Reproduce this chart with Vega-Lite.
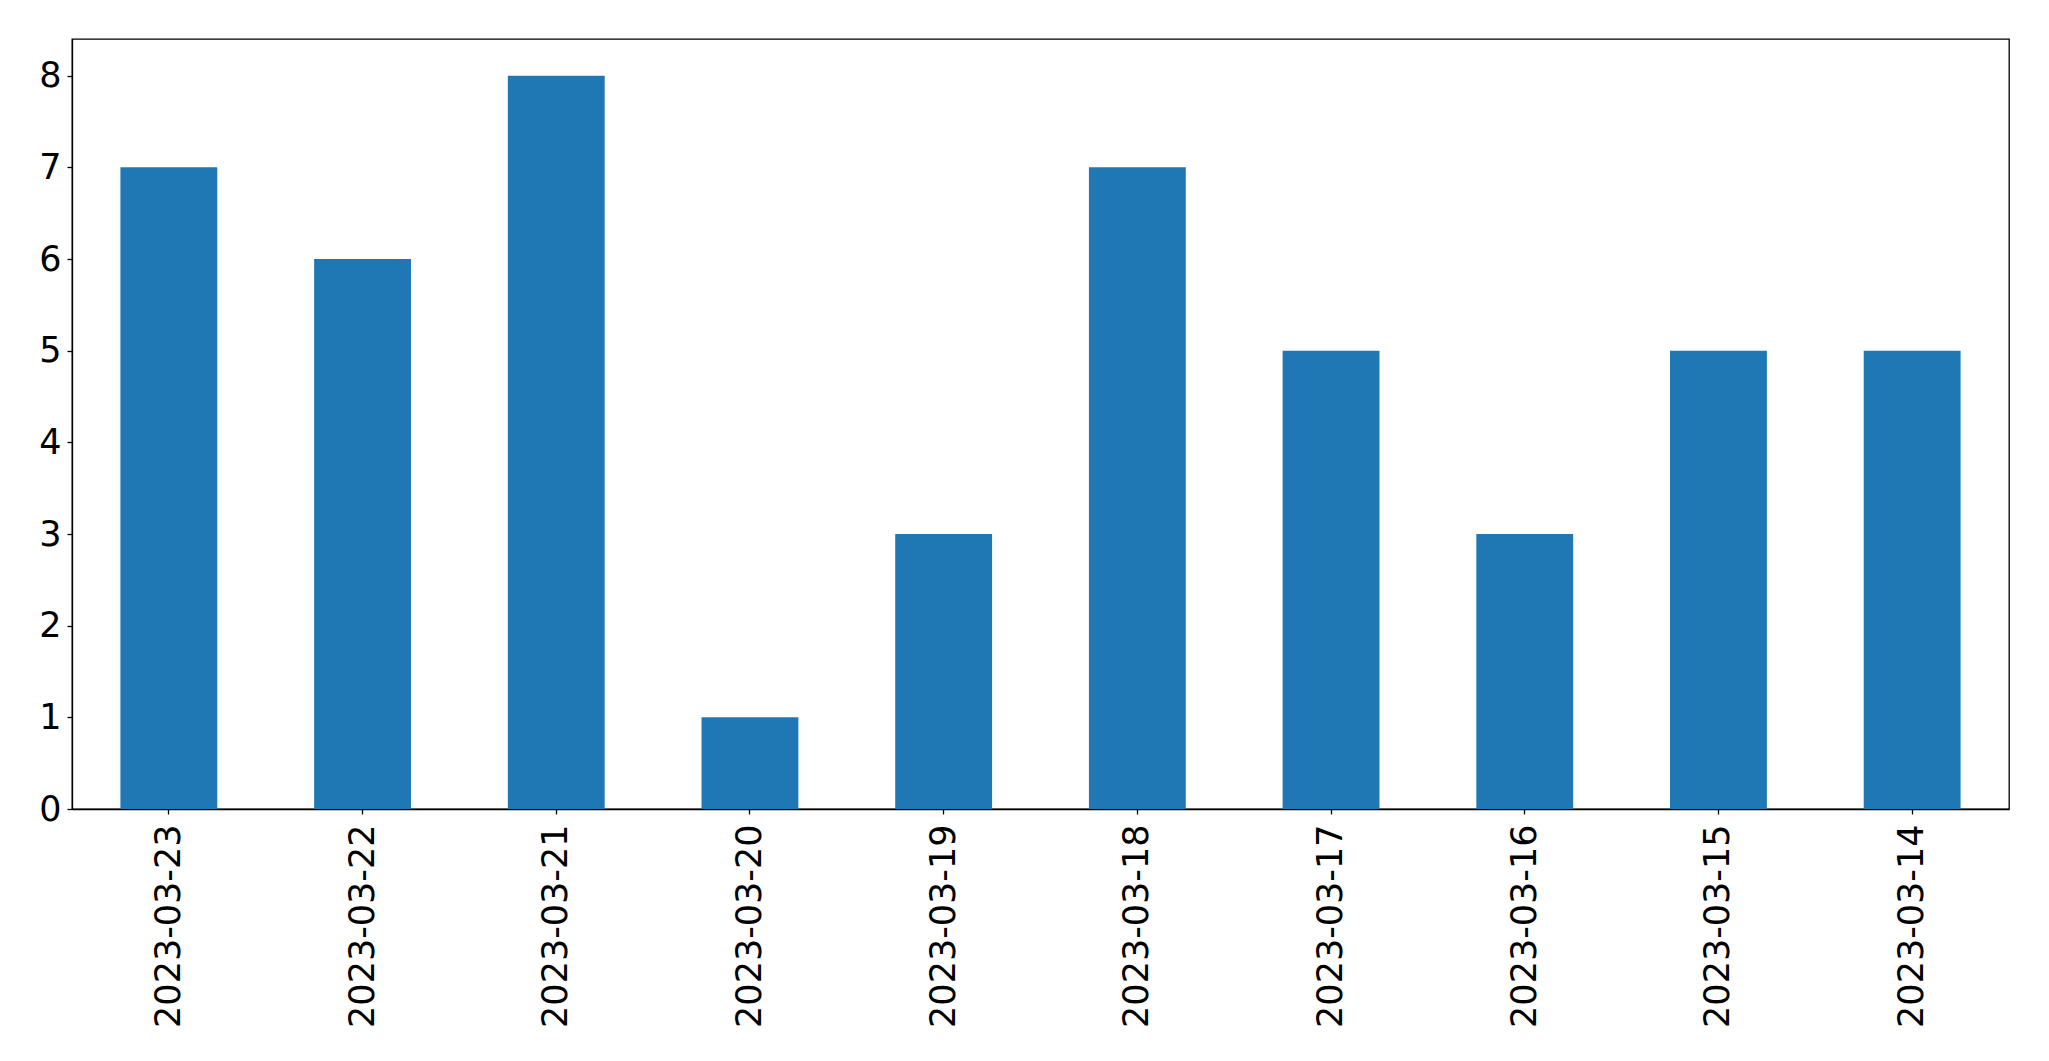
{
  "$schema": "https://vega.github.io/schema/vega-lite/v6.json",
  "width": 1937,
  "height": 770,
  "autosize": "none",
  "padding": {"left": 72, "top": 39, "right": 40, "bottom": 252},
  "background": "white",
  "config": {
    "view": {"stroke": "black", "strokeWidth": 1.3},
    "axis": {"labelFont": "DejaVu Sans", "labelFontSize": 35, "labelColor": "black", "tickColor": "black", "domainColor": "black", "domainWidth": 1.3, "tickWidth": 1.3, "tickSize": 5, "grid": false, "title": null, "labelLimit": 0}
  },
  "data": {"values": [
    {"date": "2023-03-23", "count": 7},
    {"date": "2023-03-22", "count": 6},
    {"date": "2023-03-21", "count": 8},
    {"date": "2023-03-20", "count": 1},
    {"date": "2023-03-19", "count": 3},
    {"date": "2023-03-18", "count": 7},
    {"date": "2023-03-17", "count": 5},
    {"date": "2023-03-16", "count": 3},
    {"date": "2023-03-15", "count": 5},
    {"date": "2023-03-14", "count": 5}
  ]},
  "mark": {"type": "bar", "color": "#1f77b4"},
  "encoding": {
    "x": {"field": "date", "type": "nominal", "sort": null,
      "scale": {"paddingInner": 0.5, "paddingOuter": 0.25},
      "axis": {"labelAngle": -90, "labelAlign": "right", "labelBaseline": "middle", "labelPadding": 10, "labelOverlap": false}},
    "y": {"field": "count", "type": "quantitative",
      "scale": {"domain": [0, 8.4], "nice": false, "zero": true},
      "axis": {"values": [0,1,2,3,4,5,6,7,8], "labelPadding": 6}}
  }
}
